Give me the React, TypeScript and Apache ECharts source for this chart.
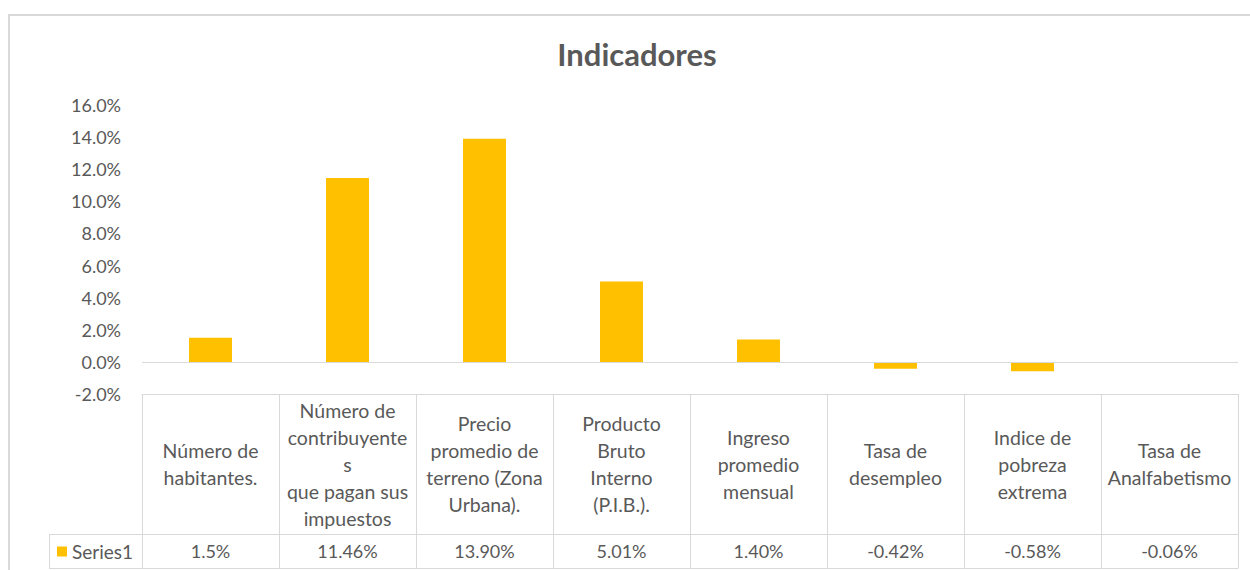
import React, { useEffect, useRef } from "react";
import * as echarts from "echarts";

const categories = [
  "Número de\nhabitantes.",
  "Número de\ncontribuyente\ns\nque pagan sus\nimpuestos",
  "Precio\npromedio de\nterreno (Zona\nUrbana).",
  "Producto\nBruto\nInterno\n(P.I.B.).",
  "Ingreso\npromedio\nmensual",
  "Tasa de\ndesempleo",
  "Indice de\npobreza\nextrema",
  "Tasa de\nAnalfabetismo",
];
const seriesName = "Series1";
const values = [0.015, 0.1146, 0.139, 0.0501, 0.014, -0.0042, -0.0058, -0.0006];
const tableLabels = ["1.5%", "11.46%", "13.90%", "5.01%", "1.40%", "-0.42%", "-0.58%", "-0.06%"];
const yMin = -0.02;
const yMax = 0.16;
const yStep = 0.02;
const titleText = "Indicadores";

const FONT = "Lato, 'Noto Sans', sans-serif";
const TEXT = "#595959";
const LINE = "#d9d9d9";
const BAR = "#FFC000";

export default function App() {
  const ref = useRef<HTMLDivElement>(null);
  useEffect(() => {
    if (!ref.current) return;
    const chart = echarts.init(ref.current, null, { renderer: "svg" });
    chart.setOption({
      animation: false,
      textStyle: { fontFamily: FONT },
      grid: { left: 142, right: 12, top: 105, bottom: 176, containLabel: false },
      legend: {
        data: [seriesName],
        left: 57,
        top: 542,
        padding: 0,
        icon: "rect",
        itemWidth: 10,
        itemHeight: 10,
        itemGap: 5,
        textStyle: { fontFamily: FONT, fontSize: 19, color: TEXT },
      },
      xAxis: [
        {
          type: "category",
          data: categories,
          position: "bottom",
          axisLine: { show: true, onZero: false, lineStyle: { color: LINE, width: 1 } },
          axisTick: { show: true, length: 174, lineStyle: { color: LINE, width: 1 } },
          axisLabel: {
            interval: 0,
            margin: 70,
            verticalAlign: "middle",
            align: "center",
            fontFamily: FONT,
            fontSize: 19.5,
            lineHeight: 27,
            color: TEXT,
          },
          splitLine: { show: false },
        },
        {
          type: "category",
          data: tableLabels,
          position: "bottom",
          offset: 140,
          axisLine: { show: true, onZero: false, lineStyle: { color: LINE, width: 1 } },
          axisTick: { show: false },
          axisLabel: {
            interval: 0,
            margin: 17,
            verticalAlign: "middle",
            fontFamily: FONT,
            fontSize: 18,
            color: TEXT,
          },
          splitLine: { show: false },
        },
        {
          type: "category",
          data: tableLabels,
          position: "bottom",
          offset: 174,
          axisLine: { show: true, onZero: false, lineStyle: { color: LINE, width: 1 } },
          axisTick: { show: false },
          axisLabel: { show: false },
          splitLine: { show: false },
        },
      ],
      yAxis: {
        type: "value",
        min: yMin,
        max: yMax,
        interval: yStep,
        axisLine: { show: false },
        axisTick: { show: false },
        splitLine: { show: false },
        axisLabel: {
          margin: 21,
          fontFamily: FONT,
          fontSize: 18,
          color: TEXT,
          formatter: (v: number) => (v * 100).toFixed(1) + "%",
        },
      },
      series: [
        {
          name: seriesName,
          type: "bar",
          xAxisIndex: 0,
          data: values,
          barWidth: 43,
          itemStyle: { color: BAR },
          markLine: {
            silent: true,
            symbol: "none",
            label: { show: false },
            lineStyle: { color: LINE, width: 1, type: "solid" },
            data: [{ yAxis: 0 }],
          },
        },
      ],
      graphic: [
        {
          type: "rect",
          shape: { x: 9, y: 15, width: 1400, height: 700 },
          style: { fill: "none", stroke: LINE, lineWidth: 2 },
          silent: true,
        },
        {
          type: "text",
          x: 637,
          y: 54,
          style: {
            text: titleText,
            fontFamily: FONT,
            fontSize: 31,
            fontWeight: "bold",
            fill: TEXT,
            textAlign: "center",
            textVerticalAlign: "middle",
          },
        },
        { type: "line", shape: { x1: 49, y1: 534.5, x2: 142, y2: 534.5 }, style: { stroke: LINE, lineWidth: 1 } },
        { type: "line", shape: { x1: 49, y1: 568.5, x2: 142, y2: 568.5 }, style: { stroke: LINE, lineWidth: 1 } },
        { type: "line", shape: { x1: 49.5, y1: 534, x2: 49.5, y2: 569 }, style: { stroke: LINE, lineWidth: 1 } },
      ],
    });
    return () => chart.dispose();
  }, []);
  return (
    <div
      ref={ref}
      style={{ position: "absolute", left: 0, top: 0, width: 1250, height: 570, background: "#fff" }}
    />
  );
}
